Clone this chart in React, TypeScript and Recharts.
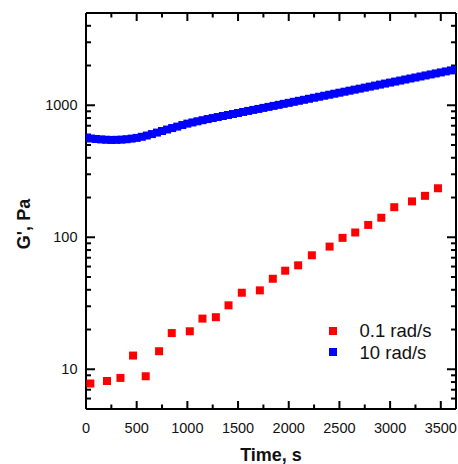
import React from 'react'
import { ScatterChart, Scatter, XAxis, YAxis, ZAxis } from 'recharts'

// G' of the slow test (0.1 rad/s)
const slowTime = [43, 207, 340, 464, 589, 721, 846, 1024, 1149, 1281, 1406, 1537, 1715, 1843, 1965, 2093, 2228, 2403, 2531, 2656, 2784, 2913, 3041, 3216, 3344, 3472]
const slowG = [7.8, 8.15, 8.6, 12.7, 8.85, 13.7, 18.8, 19.4, 24.2, 24.8, 30.5, 38, 39.6, 48.5, 55.8, 61.3, 73, 85, 99, 108.7, 124, 140.6, 169, 187, 206, 235]

// G' of the fast test (10 rad/s), sampled every 50 s
const fastTime = [
  0, 50, 100, 150, 200, 250, 300, 350, 400, 450, 500, 550, 600, 650, 700, 750, 800, 850, 900, 950,
  1000, 1050, 1100, 1150, 1200, 1250, 1300, 1350, 1400, 1450, 1500, 1550, 1600, 1650, 1700, 1750, 1800, 1850, 1900, 1950,
  2000, 2050, 2100, 2150, 2200, 2250, 2300, 2350, 2400, 2450, 2500, 2550, 2600, 2650, 2700, 2750, 2800, 2850, 2900, 2950,
  3000, 3050, 3100, 3150, 3200, 3250, 3300, 3350, 3400, 3450, 3500, 3550, 3600, 3640,
]
const fastG = [
  565, 560, 555, 551, 548, 546, 547, 549, 553, 559, 566, 577, 590, 605, 621, 638, 655, 672, 689, 708,
  726, 741, 756, 771, 786, 800, 814, 829, 844, 859, 874, 890, 906, 922, 938, 955, 972, 989, 1007, 1025,
  1043, 1062, 1081, 1100, 1120, 1140, 1160, 1181, 1202, 1223, 1245, 1267, 1290, 1313, 1336, 1360, 1384, 1409, 1434, 1460,
  1486, 1512, 1539, 1567, 1595, 1623, 1652, 1682, 1712, 1742, 1773, 1805, 1837, 1862,
]

const xDomain = [0, 3650]
const yDomain = [5, 5000]
const xTicks = [0, 250, 500, 750, 1000, 1250, 1500, 1750, 2000, 2250, 2500, 2750, 3000, 3250, 3500]
const xLabels = [0, 500, 1000, 1500, 2000, 2500, 3000, 3500]
const yTicks = [5, 6, 7, 8, 9, 10, 20, 30, 40, 50, 60, 70, 80, 90, 100, 200, 300, 400, 500, 600, 700, 800, 900, 1000, 2000, 3000, 4000, 5000]
const yLabels = [10, 100, 1000]

const seriesNames = ['0.1 rad/s', '10 rad/s']
const seriesColors = ['#ff0000', '#0000ff']

const slowData = slowTime.map((t, i) => ({ t, g: slowG[i] }))
const fastData = fastTime.map((t, i) => ({ t, g: fastG[i] }))

// inward tick marks on all four edges, placed through the chart's own scales
const tickMarks = [
  ...xTicks.map((t) => ({ t, g: yDomain[0], side: 'bottom', major: xLabels.includes(t) })),
  ...xTicks.map((t) => ({ t, g: yDomain[1], side: 'top', major: xLabels.includes(t) })),
  ...yTicks.map((g) => ({ t: xDomain[0], g, side: 'left', major: yLabels.includes(g) })),
  ...yTicks.map((g) => ({ t: xDomain[1], g, side: 'right', major: yLabels.includes(g) })),
]

const FONT = '"Liberation Sans", Arial, sans-serif'
const INK = '#111'

const TickMark = (props: any) => {
  const { cx, cy, payload } = props
  if (cx == null || cy == null || !payload) return <g />
  const vertical = payload.side === 'bottom' || payload.side === 'top'
  const len = vertical ? (payload.major ? 8 : 4.5) : payload.major ? 9 : 5
  if (payload.side === 'bottom') return <rect x={cx - 1} y={cy - len} width={2} height={len} fill="#000" />
  if (payload.side === 'top') return <rect x={cx - 1} y={cy} width={2} height={len} fill="#000" />
  if (payload.side === 'left') return <rect x={cx} y={cy - 1} width={len} height={2} fill="#000" />
  return <rect x={cx - len} y={cy - 1} width={len} height={2} fill="#000" />
}

const BottomLabel = ({ x, y, payload }: any) =>
  xLabels.includes(payload.value) ? (
    <text x={x} y={Number(y) + 19} textAnchor="middle" dominantBaseline="central" fontFamily={FONT} fontSize={14.5} fill={INK}>
      {payload.value}
    </text>
  ) : (
    <g />
  )

const LeftLabel = ({ x, y, payload }: any) =>
  yLabels.includes(payload.value) ? (
    <text x={Number(x) - 8.5} y={y} textAnchor="end" dominantBaseline="central" fontFamily={FONT} fontSize={14.5} fill={INK}>
      {payload.value}
    </text>
  ) : (
    <g />
  )

export default function App() {
  return (
    <div style={{ width: 458, height: 464, position: 'relative' }}>
      <style>{'body{margin:0}'}</style>
      <ScatterChart width={458} height={464} margin={{ top: 12, right: 1, bottom: 0, left: 0 }}>
        <XAxis
          dataKey="t"
          type="number"
          domain={xDomain}
          ticks={xTicks}
          interval={0}
          allowDataOverflow
          height={55}
          tickSize={0}
          tickMargin={0}
          tickLine={false}
          tick={<BottomLabel />}
          axisLine={{ stroke: '#000', strokeWidth: 2 }}
          label={{
            content: ({ viewBox }: any) => (
              <text
                x={viewBox.x + viewBox.width / 2}
                y={viewBox.y + 46}
                textAnchor="middle"
                dominantBaseline="central"
                fontFamily={FONT}
                fontSize={18}
                fontWeight="bold"
                fill={INK}
              >
                Time, s
              </text>
            ),
          }}
        />
        <XAxis
          xAxisId="top"
          orientation="top"
          type="number"
          domain={xDomain}
          allowDataOverflow
          height={1}
          tick={false}
          tickLine={false}
          axisLine={{ stroke: '#000', strokeWidth: 2 }}
        />
        <YAxis
          dataKey="g"
          type="number"
          scale="log"
          domain={yDomain}
          ticks={yTicks}
          interval={0}
          allowDataOverflow
          width={86}
          tickSize={0}
          tickMargin={0}
          tickLine={false}
          tick={<LeftLabel />}
          axisLine={{ stroke: '#000', strokeWidth: 2 }}
          label={{
            content: ({ viewBox }: any) => {
              const cx = viewBox.x + 24
              const cy = viewBox.y + viewBox.height / 2 + 13
              return (
                <text
                  x={cx}
                  y={cy}
                  transform={`rotate(-90 ${cx} ${cy})`}
                  textAnchor="middle"
                  dominantBaseline="central"
                  fontFamily={FONT}
                  fontSize={18}
                  fontWeight="bold"
                  fill={INK}
                >
                  G', Pa
                </text>
              )
            },
          }}
        />
        <YAxis
          yAxisId="right"
          orientation="right"
          type="number"
          scale="log"
          domain={yDomain}
          allowDataOverflow
          width={1}
          tick={false}
          tickLine={false}
          axisLine={{ stroke: '#000', strokeWidth: 2 }}
        />
        <ZAxis zAxisId="slow" range={[76, 76]} />
        <ZAxis zAxisId="fast" range={[100, 100]} />
        <Scatter data={tickMarks} shape={TickMark} legendType="none" isAnimationActive={false} />
        <Scatter name={seriesNames[0]} zAxisId="slow" data={slowData} fill={seriesColors[0]} shape="square" isAnimationActive={false} />
        <Scatter name={seriesNames[1]} zAxisId="fast" data={fastData} fill={seriesColors[1]} shape="square" isAnimationActive={false} />
      </ScatterChart>
      <div style={{ position: 'absolute', left: 329, top: 320, fontFamily: FONT, fontSize: 18.5, color: INK }}>
        {seriesNames.map((name, i) => (
          <div key={name} style={{ display: 'flex', alignItems: 'center', height: 21.5 }}>
            <span style={{ width: 8, height: 8, background: seriesColors[i], display: 'inline-block' }} />
            <span style={{ marginLeft: 22.5, lineHeight: '21.5px' }}>{name}</span>
          </div>
        ))}
      </div>
    </div>
  )
}
